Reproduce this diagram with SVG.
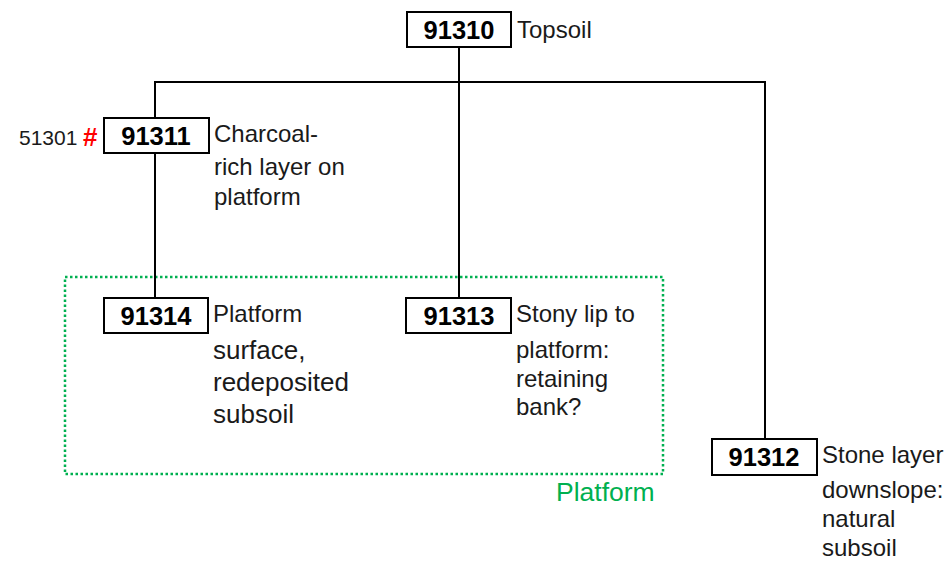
<svg xmlns="http://www.w3.org/2000/svg" width="951" height="562" viewBox="0 0 951 562">
  <style>
    .box { fill: #ffffff; stroke: #000000; stroke-width: 2; }
    .id { font-family: "Liberation Sans", Arial, sans-serif; font-weight: bold; font-size: 25.5px; fill: #000000; text-anchor: middle; }
    .lbl { font-family: "Liberation Sans", Arial, sans-serif; font-size: 24px; fill: #1a1a1a; }
    .lbl-lg { font-family: "Liberation Sans", Arial, sans-serif; font-size: 26px; fill: #1a1a1a; }
    .wire { fill: none; stroke: #000000; stroke-width: 2; }
    .zone { fill: none; stroke: #00b050; stroke-width: 2.5; stroke-dasharray: 2.5 2.5; }
    .zone-lbl { font-family: "Liberation Sans", Arial, sans-serif; font-size: 26.5px; fill: #00b050; }
  </style>

  <rect width="951" height="562" fill="#ffffff"/>

  <!-- platform grouping -->
  <g id="platform-zone">
    <rect class="zone" x="65" y="277" width="598" height="197"/>
    <text class="zone-lbl" x="556" y="501">Platform</text>
  </g>

  <!-- connectors -->
  <g id="connectors">
    <line class="wire" x1="459" y1="47" x2="459" y2="298"/>
    <line class="wire" x1="154" y1="82" x2="766" y2="82"/>
    <line class="wire" x1="155" y1="82" x2="155" y2="118"/>
    <line class="wire" x1="765" y1="82" x2="765" y2="439"/>
    <line class="wire" x1="155" y1="153" x2="155" y2="298"/>
  </g>

  <g id="n91310">
    <rect class="box" x="407" y="12" width="104" height="35"/>
    <text class="id" x="459" y="39">91310</text>
    <text class="lbl" x="517" y="38">Topsoil</text>
  </g>

  <g id="n91311">
    <rect class="box" x="104" y="118" width="105" height="35"/>
    <text class="id" x="156" y="145">91311</text>
    <text class="lbl" x="19" y="145" style="font-size:21px">51301</text>
    <text x="83" y="146" style="font-family:'Liberation Sans',Arial,sans-serif;font-weight:bold;font-size:26px;fill:#ff0000">#</text>
    <text class="lbl" x="214" y="142">Charcoal-</text>
    <text class="lbl" x="214" y="175">rich layer on</text>
    <text class="lbl" x="214" y="205">platform</text>
  </g>

  <g id="n91314">
    <rect class="box" x="104" y="298" width="104" height="35"/>
    <text class="id" x="156" y="325">91314</text>
    <text class="lbl" x="213" y="322">Platform</text>
    <text class="lbl-lg" x="213" y="359">surface,</text>
    <text class="lbl-lg" x="213" y="391">redeposited</text>
    <text class="lbl-lg" x="213" y="423">subsoil</text>
  </g>

  <g id="n91313">
    <rect class="box" x="406" y="298" width="105" height="35"/>
    <text class="id" x="459" y="325">91313</text>
    <text class="lbl" x="516" y="322">Stony lip to</text>
    <text class="lbl" x="516" y="358">platform:</text>
    <text class="lbl" x="516" y="387">retaining</text>
    <text class="lbl" x="516" y="415">bank?</text>
  </g>

  <g id="n91312">
    <rect class="box" x="712" y="439" width="105" height="36"/>
    <text class="id" x="764" y="466">91312</text>
    <text class="lbl" x="822" y="463">Stone layer</text>
    <text class="lbl" x="822" y="498">downslope:</text>
    <text class="lbl" x="822" y="527">natural</text>
    <text class="lbl" x="822" y="556">subsoil</text>
  </g>
</svg>
